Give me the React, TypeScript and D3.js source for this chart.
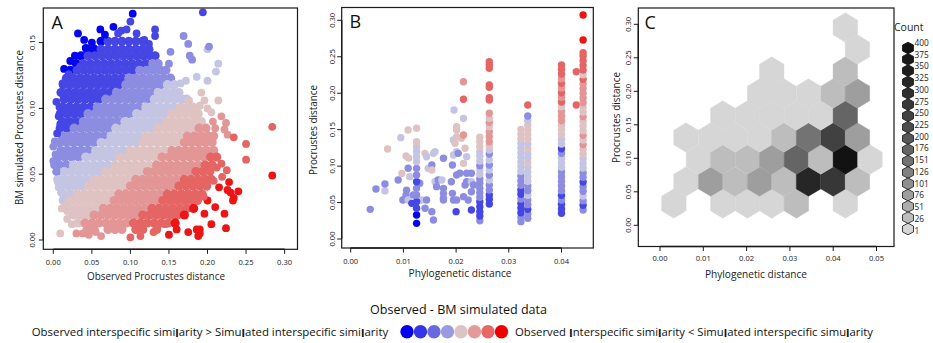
import React from "react";
import * as d3 from "d3";

const FONT = "'Open Sans', 'Noto Sans', 'DejaVu Sans', sans-serif";

// ---------------- Panel A : observed vs BM simulated Procrustes distances ----------------
const A_X_TICKS = [0, 0.05, 0.1, 0.15, 0.2, 0.25, 0.3];
const A_Y_TICKS = [0, 0.05, 0.1, 0.15];
// dense cloud, per-mille units: [simulated distance, observed distances...]
const A_ROWS: [number, number[]][] = [
  [151, [62, 71, 80, 89, 98, 107, 116]],
  [145, [44, 53, 62, 71, 80, 89, 98, 107, 116, 124]],
  [140, [36, 45, 54, 63, 72, 81, 90, 99, 108, 117, 126, 132]],
  [134, [30, 39, 48, 57, 66, 75, 84, 93, 102, 111, 120, 129, 136]],
  [129, [22, 31, 40, 49, 58, 67, 76, 85, 94, 103, 112, 121, 130, 139, 146]],
  [123, [17, 26, 35, 44, 53, 62, 71, 80, 89, 98, 107, 116, 125, 134, 143, 152]],
  [118, [13, 22, 31, 40, 49, 58, 67, 76, 85, 94, 103, 112, 121, 130, 139, 148, 157]],
  [112, [10, 19, 28, 37, 46, 55, 64, 73, 82, 91, 100, 109, 118, 127, 136, 145, 154, 163]],
  [107, [14, 23, 32, 41, 50, 59, 68, 77, 86, 95, 104, 113, 122, 131, 140, 149, 158, 167, 173]],
  [101, [12, 21, 30, 39, 48, 57, 66, 75, 84, 93, 102, 111, 120, 129, 138, 147, 156, 165, 174, 181]],
  [96, [9, 18, 27, 36, 45, 54, 63, 72, 81, 90, 99, 108, 117, 126, 135, 144, 153, 162, 171, 180, 188]],
  [90, [12, 21, 30, 39, 48, 57, 66, 75, 84, 93, 102, 111, 120, 129, 138, 147, 156, 165, 174, 183, 192]],
  [85, [9, 18, 27, 36, 45, 54, 63, 72, 81, 90, 99, 108, 117, 126, 135, 144, 153, 162, 171, 180, 189, 198]],
  [79, [12, 21, 30, 39, 48, 57, 66, 75, 84, 93, 102, 111, 120, 129, 138, 147, 156, 165, 174, 183, 192, 201, 208]],
  [74, [8, 17, 26, 35, 44, 53, 62, 71, 80, 89, 98, 107, 116, 125, 134, 143, 152, 161, 170, 179, 188, 197, 206]],
  [68, [10, 19, 28, 37, 46, 55, 64, 73, 82, 91, 100, 109, 118, 127, 136, 145, 154, 163, 172, 181, 190, 199, 208]],
  [63, [6, 15, 24, 33, 42, 51, 60, 69, 78, 87, 96, 105, 114, 123, 132, 141, 150, 159, 168, 177, 186, 195, 204, 212]],
  [57, [8, 17, 26, 35, 44, 53, 62, 71, 80, 89, 98, 107, 116, 125, 134, 143, 152, 161, 170, 179, 188, 197, 206]],
  [52, [5, 14, 23, 32, 41, 50, 59, 68, 77, 86, 95, 104, 113, 122, 131, 140, 149, 158, 167, 176, 185, 194, 203]],
  [46, [8, 17, 26, 35, 44, 53, 62, 71, 80, 89, 98, 107, 116, 125, 134, 143, 152, 161, 170, 179, 188, 197, 205]],
  [41, [10, 19, 28, 37, 46, 55, 64, 73, 82, 91, 100, 109, 118, 127, 136, 145, 154, 163, 172, 181, 190, 199]],
  [35, [13, 22, 31, 40, 49, 58, 67, 76, 85, 94, 103, 112, 121, 130, 139, 148, 157, 166, 175, 184, 193]],
  [30, [16, 25, 34, 43, 52, 61, 70, 79, 88, 97, 106, 115, 124, 133, 142, 151, 160, 169, 178, 187]],
  [24, [20, 29, 38, 47, 56, 65, 74, 83, 92, 101, 110, 119, 128, 137, 146, 155, 164, 173, 182]],
  [19, [26, 35, 44, 53, 62, 71, 80, 89, 98, 107, 116, 125, 134, 143, 152, 161, 170]],
  [13, [32, 41, 50, 59, 68, 77, 86, 95, 104, 113, 122, 131, 140, 149, 158]],
  [8, [44, 53, 71, 80, 89, 107, 116, 134]],
];
// scattered points, per-mille [observed, simulated]
const A_EXTRA: [number, number][] = [
  [103, 172], [194, 173], [32, 157], [61, 160], [67, 156], [95, 160], [108, 157], [132, 160], [132, 155],
  [50, 150], [84, 157], [14, 130], [12, 119], [28, 140], [35, 132], [22, 136], [4, 105], [8, 101], [7, 94],
  [9, 88], [5, 81], [20, 126], [42, 146], [118, 152], [124, 149], [40, 152], [100, 166], [78, 162], [88, 159],
  [169, 155], [175, 149], [152, 143], [150, 134], [177, 140], [180, 137], [200, 145], [202, 147], [214, 134],
  [211, 128], [200, 121], [186, 124], [172, 121], [165, 119], [192, 112], [176, 106],
  [214, 106], [218, 94], [205, 97], [200, 100], [196, 106], [190, 102], [224, 89], [210, 85], [222, 84],
  [226, 80], [207, 90], [234, 78], [250, 73], [250, 61], [219, 48], [233, 30], [234, 32], [284, 86], [284, 49],
  [230, 36], [226, 38], [240, 37], [222, 20], [196, 20], [190, 8], [190, 5], [224, 9], [205, 12], [215, 40],
  [208, 45], [212, 55], [218, 58], [225, 53], [228, 44], [210, 25], [200, 30], [195, 33],
  [9, 5], [24, 12], [18, 16], [30, 5], [38, 5], [46, 4], [55, 6], [62, 3], [100, 2], [113, 3], [130, 6],
  [150, 4], [160, 8], [175, 6], [186, 8], [188, 3], [135, 10], [145, 12],
  [0, 71], [1, 57], [4, 52], [0, 60], [3, 65], [2, 75], [5, 46], [7, 40], [10, 36], [6, 44], [12, 30],
  [15, 26], [18, 22], [11, 24], [20, 30],
];

// ---------------- Panel B : Procrustes vs phylogenetic distance ----------------
const B_X_TICKS = [0, 0.01, 0.02, 0.03, 0.04];
const B_Y_TICKS = [0, 0.05, 0.1, 0.15, 0.2, 0.25, 0.3];
// columns of pairs sharing one phylogenetic distance: [x, [[y, colour class]...]]
const B_COLUMNS: [number, [number, number][]][] = [
  [0.0125, [[0.0215, 0], [0.0329, 0], [0.0421, 1], [0.0512, 1], [0.0604, 2], [0.0695, 2], [0.0786, 1], [0.0878, 2],
    [0.0969, 2], [0.1061, 3], [0.1129, 3], [0.1198, 3], [0.1267, 3], [0.1335, 4]]],
  [0.0245, [[0.0251, 2], [0.0316, 1], [0.0375, 1], [0.0444, 1], [0.0512, 1], [0.0572, 2], [0.0636, 2], [0.0695, 2],
    [0.0764, 2], [0.0823, 2], [0.0887, 3], [0.0947, 3], [0.1006, 2], [0.107, 3], [0.1139, 3], [0.1198, 3],
    [0.1267, 4], [0.1335, 4], [0.1395, 4]]],
  [0.0263, [[0.048, 1], [0.0544, 1], [0.0604, 1], [0.0672, 2], [0.0741, 2], [0.0809, 3], [0.0878, 2], [0.0947, 3],
    [0.1015, 2], [0.1084, 3], [0.1166, 2], [0.1221, 3], [0.128, 4], [0.1335, 5], [0.1404, 5], [0.1472, 5],
    [0.1541, 4], [0.16, 5], [0.1655, 4], [0.1724, 5], [0.1907, 6], [0.1939, 6], [0.208, 6], [0.2113, 6],
    [0.2341, 6], [0.2387, 6], [0.2433, 6]]],
  [0.0323, [[0.0238, 2], [0.0297, 2], [0.0361, 1], [0.0425, 1], [0.0489, 1], [0.0549, 2], [0.0613, 1], [0.0672, 1],
    [0.0736, 2], [0.08, 2], [0.0864, 2], [0.0928, 3], [0.0992, 3], [0.1056, 3], [0.112, 3], [0.1184, 3],
    [0.1248, 3], [0.1312, 3], [0.1376, 4], [0.144, 4], [0.1504, 4]]],
  [0.0336, [[0.0283, 2], [0.0343, 2], [0.0407, 1], [0.0471, 2], [0.0535, 2], [0.0599, 3], [0.0663, 2], [0.0727, 2],
    [0.0791, 3], [0.0855, 3], [0.0919, 3], [0.0983, 3], [0.1047, 4], [0.1111, 3], [0.1175, 3], [0.1239, 4],
    [0.1303, 3], [0.1367, 4], [0.1431, 4], [0.1495, 4], [0.1559, 4], [0.1623, 3], [0.1687, 2], [0.1838, 6]]],
  [0.04, [[0.0352, 1], [0.0412, 1], [0.0476, 1], [0.0535, 2], [0.0599, 1], [0.0663, 2], [0.0727, 2], [0.0791, 2],
    [0.0855, 2], [0.0919, 2], [0.0983, 3], [0.1047, 3], [0.1111, 3], [0.1175, 2], [0.1239, 1], [0.1303, 3],
    [0.1367, 3], [0.1431, 4], [0.1495, 4], [0.1559, 4], [0.1623, 5], [0.1687, 5], [0.1751, 5], [0.1815, 4],
    [0.1879, 6], [0.1943, 5], [0.2007, 6], [0.2071, 5], [0.2135, 6], [0.2199, 5], [0.2263, 6], [0.2327, 6],
    [0.2387, 6]]],
  [0.0441, [[0.0398, 2], [0.0462, 1], [0.0526, 2], [0.059, 3], [0.0654, 2], [0.0718, 2], [0.0782, 1], [0.0846, 2],
    [0.091, 2], [0.0974, 3], [0.1038, 3], [0.1102, 3], [0.1166, 4], [0.123, 4], [0.1294, 5], [0.1358, 4],
    [0.1422, 5], [0.1486, 4], [0.155, 4], [0.1614, 4], [0.1678, 5], [0.1742, 4], [0.1806, 4], [0.187, 5],
    [0.1934, 5], [0.1998, 5], [0.2062, 5], [0.2126, 5], [0.219, 6], [0.2254, 4], [0.2318, 6], [0.2382, 6],
    [0.2446, 6], [0.251, 6], [0.2556, 6], [0.273, 7], [0.3073, 7]]],
];
// scattered pairs: [phylogenetic distance, Procrustes distance, colour class]
const B_SCATTER: [number, number, number][] = [
  [0.0037, 0.0407, 2], [0.0048, 0.0686, 2], [0.0065, 0.066, 3], [0.0065, 0.0754, 2], [0.007, 0.1235, 4],
  [0.0095, 0.139, 3], [0.0097, 0.09, 4], [0.009, 0.081, 2], [0.0099, 0.0535, 2], [0.0105, 0.1139, 4],
  [0.011, 0.111, 4], [0.0109, 0.1495, 4], [0.0125, 0.152, 4], [0.0109, 0.097, 2], [0.0112, 0.0855, 3],
  [0.0106, 0.067, 2], [0.0105, 0.0604, 2], [0.0109, 0.0535, 3], [0.0119, 0.0604, 2], [0.0116, 0.0489, 1],
  [0.0131, 0.0764, 2], [0.0135, 0.0535, 3], [0.0141, 0.1175, 4], [0.0144, 0.1129, 3], [0.0147, 0.0969, 3],
  [0.0154, 0.1015, 2], [0.0141, 0.0421, 2], [0.0144, 0.0535, 2], [0.0154, 0.0375, 2], [0.0157, 0.0261, 2],
  [0.016, 0.0786, 3], [0.0163, 0.0718, 2], [0.0166, 0.0809, 2], [0.0157, 0.1175, 3], [0.016, 0.1198, 3],
  [0.0154, 0.0947, 4], [0.0176, 0.0695, 2], [0.0176, 0.0626, 2], [0.0176, 0.0558, 2], [0.0176, 0.0535, 2],
  [0.0173, 0.0809, 3], [0.0176, 0.1107, 2], [0.0195, 0.1358, 3], [0.0198, 0.1312, 4], [0.0201, 0.1404, 4],
  [0.0196, 0.177, 3], [0.0201, 0.1495, 4], [0.0201, 0.1541, 4], [0.021, 0.1381, 4], [0.0214, 0.1427, 5],
  [0.0214, 0.1655, 3], [0.0214, 0.1916, 6], [0.0214, 0.2158, 5], [0.0217, 0.1244, 4], [0.0214, 0.1038, 4],
  [0.0201, 0.1198, 3], [0.0195, 0.1152, 3], [0.0204, 0.1175, 2], [0.0193, 0.1015, 2], [0.0201, 0.0878, 2],
  [0.0207, 0.0901, 2], [0.0191, 0.0786, 2], [0.0193, 0.0626, 2], [0.0195, 0.0535, 2], [0.0201, 0.0535, 2],
  [0.02, 0.0375, 1], [0.0214, 0.0581, 2], [0.0217, 0.0741, 2], [0.022, 0.0786, 2], [0.022, 0.0901, 2],
  [0.022, 0.1129, 3], [0.0229, 0.0901, 2], [0.0229, 0.0786, 3], [0.0233, 0.0741, 2], [0.0229, 0.0398, 1],
  [0.0229, 0.0649, 2], [0.0223, 0.0535, 2], [0.0428, 0.2295, 6], [0.0428, 0.1838, 6],
];

// ---------------- Panel C : hexagonal binning ----------------
const C_X_TICKS = [0, 0.01, 0.02, 0.03, 0.04, 0.05];
const C_Y_TICKS = [0, 0.05, 0.1, 0.15, 0.2, 0.25, 0.3];
const C_HEX_DX = 0.005658; // bin width (phylogenetic distance)
const C_HEX_DY = 0.03284; // row spacing (Procrustes distance)
// [bin centre x, bin centre y, count]
const C_CELLS: [number, number, number][] = [
  [0.0032, 0.0325, 12], [0.0145, 0.0325, 12], [0.0202, 0.0325, 12], [0.0258, 0.0325, 12], [0.0315, 0.0325, 35], [0.0428, 0.0325, 12],
  [0.006, 0.0653, 12], [0.0117, 0.0653, 85], [0.0173, 0.0653, 35], [0.023, 0.0653, 85], [0.0286, 0.0653, 35], [0.0343, 0.0653, 330], [0.04, 0.0653, 280], [0.0456, 0.0653, 35],
  [0.0089, 0.0982, 12], [0.0145, 0.0982, 35], [0.0202, 0.0982, 35], [0.0258, 0.0982, 85], [0.0315, 0.0982, 185], [0.0371, 0.0982, 30], [0.0428, 0.0982, 400], [0.0485, 0.0982, 12],
  [0.006, 0.131, 12], [0.0117, 0.131, 12], [0.0173, 0.131, 12], [0.023, 0.131, 12], [0.0286, 0.131, 35], [0.0343, 0.131, 155], [0.04, 0.131, 255], [0.0456, 0.131, 85],
  [0.0145, 0.1639, 12], [0.0202, 0.1639, 12], [0.0258, 0.1639, 12], [0.0315, 0.1639, 12], [0.0371, 0.1639, 12], [0.0428, 0.1639, 185],
  [0.023, 0.1967, 12], [0.0286, 0.1967, 12], [0.0343, 0.1967, 12], [0.04, 0.1967, 35], [0.0456, 0.1967, 85],
  [0.0258, 0.2295, 12], [0.0428, 0.2295, 35],
  [0.0456, 0.2624, 12],
  [0.0428, 0.2952, 12],
];
const C_LEGEND_COUNTS = [400, 375, 350, 325, 300, 275, 250, 225, 200, 176, 151, 126, 101, 76, 51, 26, 1];
const GRAY_LEVELS = ["#d6d6d6", "#bdbdbd", "#adadad", "#9e9e9e", "#8f8f8f", "#818181", "#737373", "#656565",
  "#585858", "#4c4c4c", "#414141", "#373737", "#2e2e2e", "#262626", "#1f1f1f", "#191919", "#121212"];

// ---------------- colour classes (Observed - BM simulated) ----------------
const CLASS_COLORS = ["#0606ee", "#4646e4", "#8c8ce0", "#c4c4e3", "#dfc3c3", "#e39696", "#e56565", "#ec1414"];
const DIFF_BREAKS = [0.118, 0.074, 0.045, 0.02, -0.007, -0.038, -0.065];
const LEGEND_DOTS = ["#0000ee", "#3434e8", "#6868e0", "#9a9ae0", "#dcc4c4", "#e49a9a", "#e86868", "#ee0000"];

function diffClass(x: number, y: number) {
  const d = y - 0.5 * x;
  let i = 0;
  while (i < DIFF_BREAKS.length && d <= DIFF_BREAKS[i]) i++;
  return i;
}

type Box = { l: number; t: number; r: number; b: number };

function Frame(props: {
  box: Box; xs: any; ys: any; xTicks: number[]; yTicks: number[];
  xLabelY: number; yLabelX: number; xTitle: string; xTitlePos: [number, number]; xTitleLen: number;
  yTitle: string; yTitlePos: [number, number]; yTitleLen: number; letter: string; letterPos: [number, number];
}) {
  const { box, xs, ys, xTicks, yTicks } = props;
  const fmt = d3.format(".2f");
  const tk = 4.5;
  return (
    <g fontFamily={FONT} fill="#222">
      <rect x={box.l} y={box.t} width={box.r - box.l} height={box.b - box.t} fill="none" stroke="#1a1a1a" strokeWidth={1.2} />
      <line x1={xs(xTicks[0])} x2={xs(xTicks[xTicks.length - 1])} y1={box.b} y2={box.b} stroke="#1a1a1a" strokeWidth={1.4} />
      <line y1={ys(yTicks[0])} y2={ys(yTicks[yTicks.length - 1])} x1={box.l} x2={box.l} stroke="#1a1a1a" strokeWidth={1.4} />
      {xTicks.map((t) => (
        <g key={"x" + t}>
          <line x1={xs(t)} x2={xs(t)} y1={box.b} y2={box.b + tk} stroke="#1a1a1a" strokeWidth={1} />
          <text x={xs(t)} y={props.xLabelY} fontSize={7.6} textAnchor="middle" dominantBaseline="central">{fmt(t)}</text>
        </g>
      ))}
      {yTicks.map((t) => (
        <g key={"y" + t}>
          <line x1={box.l - tk} x2={box.l} y1={ys(t)} y2={ys(t)} stroke="#1a1a1a" strokeWidth={1} />
          <text transform={`translate(${props.yLabelX},${ys(t)}) rotate(-90)`} fontSize={7.6} textAnchor="middle" dominantBaseline="central">{fmt(t)}</text>
        </g>
      ))}
      <text x={props.xTitlePos[0]} y={props.xTitlePos[1]} fontSize={10.5} textAnchor="middle" dominantBaseline="central"
        textLength={props.xTitleLen} lengthAdjust="spacingAndGlyphs">{props.xTitle}</text>
      <text transform={`translate(${props.yTitlePos[0]},${props.yTitlePos[1]}) rotate(-90)`} fontSize={10.5} textAnchor="middle"
        dominantBaseline="central" textLength={props.yTitleLen} lengthAdjust="spacingAndGlyphs">{props.yTitle}</text>
      <text x={props.letterPos[0]} y={props.letterPos[1]} fontSize={18} fill="#111">{props.letter}</text>
    </g>
  );
}

function hexPath(cx: number, cy: number, w: number, R: number) {
  const h = w / 2;
  return `M${cx},${cy - R}L${cx + h},${cy - R / 2}L${cx + h},${cy + R / 2}L${cx},${cy + R}L${cx - h},${cy + R / 2}L${cx - h},${cy - R / 2}Z`;
}

export default function App() {
  const ax = d3.scaleLinear().domain([0, 0.3]).range([53.3, 284.6]);
  const ay = d3.scaleLinear().domain([0, 0.15]).range([240, 42.6]);
  const bx = d3.scaleLinear().domain([0, 0.04]).range([350.7, 561.5]);
  const by = d3.scaleLinear().domain([0, 0.3]).range([239, 20.3]);
  const cx = d3.scaleLinear().domain([0, 0.05]).range([660, 876.5]);
  const cy = d3.scaleLinear().domain([0, 0.3]).range([225.3, 24.3]);

  const aPoints: { x: number; y: number; r: number }[] = [];
  A_ROWS.forEach(([y, xsRow]) => xsRow.forEach((x) => aPoints.push({ x: x / 1000, y: y / 1000, r: 4.6 })));
  A_EXTRA.forEach(([x, y]) => aPoints.push({ x: x / 1000, y: y / 1000, r: 3.9 }));

  const bPoints: { x: number; y: number; c: number }[] = [];
  B_SCATTER.forEach(([x, y, c]) => bPoints.push({ x, y, c }));
  B_COLUMNS.forEach(([x, col]) => col.forEach(([y, c]) => bPoints.push({ x, y, c })));

  const gray = d3.scaleThreshold<number, string>()
    .domain(C_LEGEND_COUNTS.slice().reverse().slice(1))
    .range(GRAY_LEVELS);
  const hexW = cx(C_HEX_DX) - cx(0);
  const hexR = ((cy(0) - cy(C_HEX_DY)) * 2) / 3;

  const legendHex = d3.scaleLinear().domain([0, C_LEGEND_COUNTS.length - 1]).range([48, 229]);
  const legendLab = d3.scaleLinear().domain([0, C_LEGEND_COUNTS.length - 1]).range([42.5, 230]);

  const dotX = d3.scaleLinear().domain([0, LEGEND_DOTS.length - 1]).range([407, 501.5]);

  const B = (s: string) => <tspan fontWeight={700}>{s}</tspan>;

  return (
    <svg width={933} height={343} style={{ position: "absolute", left: 0, top: 0, background: "#fff" }}
      xmlns="http://www.w3.org/2000/svg">
      <rect width={933} height={343} fill="#fff" />
      {/* Panel A */}
      <g>
        {aPoints.map((p, i) => (
          <circle key={i} cx={ax(p.x)} cy={ay(p.y)} r={p.r} fill={CLASS_COLORS[diffClass(p.x, p.y)]} />
        ))}
      </g>
      <Frame box={{ l: 43.3, t: 8, r: 297.5, b: 249.3 }} xs={ax} ys={ay} xTicks={A_X_TICKS} yTicks={A_Y_TICKS}
        xLabelY={262.3} yLabelX={32} xTitle="Observed Procrustes distance" xTitlePos={[156, 275.7]} xTitleLen={138}
        yTitle="BM simulated Procrustes distance" yTitlePos={[18.5, 127.5]} yTitleLen={155} letter="A" letterPos={[51.5, 28.5]} />

      {/* Panel B */}
      <g>
        {bPoints.map((p, i) => (
          <circle key={i} cx={bx(p.x)} cy={by(p.y)} r={3.7} fill={CLASS_COLORS[p.c]} />
        ))}
      </g>
      <Frame box={{ l: 341.7, t: 7.5, r: 593.3, b: 248 }} xs={bx} ys={by} xTicks={B_X_TICKS} yTicks={B_Y_TICKS}
        xLabelY={260.7} yLabelX={331.7} xTitle="Phylogenetic distance" xTitlePos={[460, 273.3]} xTitleLen={103}
        yTitle="Procrustes distance" yTitlePos={[312.5, 130]} yTitleLen={90} letter="B" letterPos={[349.5, 27.5]} />

      {/* Panel C */}
      <g>
        {C_CELLS.map(([x, y, n], i) => (
          <path key={i} d={hexPath(cx(x), cy(y), hexW, hexR)} fill={gray(n)} stroke={gray(n)} strokeWidth={0.4} />
        ))}
      </g>
      <Frame box={{ l: 638.3, t: 8, r: 894, b: 246.5 }} xs={cx} ys={cy} xTicks={C_X_TICKS} yTicks={C_Y_TICKS}
        xLabelY={258.3} yLabelX={628.3} xTitle="Phylogenetic distance" xTitlePos={[756, 274]} xTitleLen={102}
        yTitle="Procrustes distance" yTitlePos={[616, 117.5]} yTitleLen={91} letter="C" letterPos={[644.5, 28.5]} />

      {/* Count legend */}
      <g fontFamily={FONT} fill="#222">
        <text x={894} y={30.5} fontSize={10.5}>Count</text>
        {C_LEGEND_COUNTS.map((n, i) => (
          <g key={n}>
            <path d={hexPath(908, legendHex(i), 11, 5.8)} fill={gray(n)} stroke="#111" strokeWidth={0.8} />
            <text x={914.5} y={legendLab(i)} fontSize={8.3} dominantBaseline="central">{n}</text>
          </g>
        ))}
      </g>

      {/* bottom legend */}
      <g fontFamily={FONT} fill="#111">
        <text x={458.5} y={309} fontSize={13} textAnchor="middle" dominantBaseline="central" textLength={177}
          lengthAdjust="spacingAndGlyphs">Observed - BM simulated data</text>
        <text x={31.7} y={331.7} fontSize={11} dominantBaseline="central" textLength={356.5} lengthAdjust="spacingAndGlyphs">
          Observed interspecific simi{B("l")}arity &gt; Simu{B("l")}ated interspecific simi{B("l")}arity
        </text>
        {LEGEND_DOTS.map((c, i) => (
          <circle key={c} cx={dotX(i)} cy={331.7} r={6.7} fill={c} />
        ))}
        <text x={515} y={331.7} fontSize={11} dominantBaseline="central" textLength={358} lengthAdjust="spacingAndGlyphs">
          Observed {B("I")}nterspecific simi{B("l")}arity &lt; Simu{B("l")}ated interspecific simu{B("l")}arity
        </text>
      </g>
    </svg>
  );
}
